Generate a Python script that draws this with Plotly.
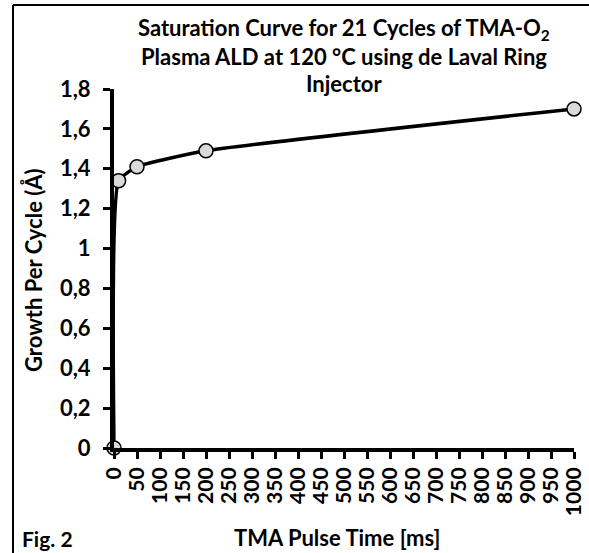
import plotly.graph_objects as go

pulse_ms = [0, 10, 50, 200, 1000]
gpc = [0, 1.34, 1.41, 1.49, 1.70]

x_ticks = list(range(0, 1001, 50))
x_tick_labels = [str(v) for v in x_ticks]
y_ticks = [0, 0.2, 0.4, 0.6, 0.8, 1.0, 1.2, 1.4, 1.6, 1.8]
y_tick_labels = ["0", "0,2", "0,4", "0,6", "0,8", "1", "1,2", "1,4", "1,6", "1,8"]

title_lines = [
    "Saturation Curve for 21 Cycles of TMA-O<sub>2</sub>",
    "Plasma ALD at 120 °C using de Laval Ring",
    "Injector",
]

FONT = "Lato"
W, H = 589, 553
L, R, T, B = 114, 574, 89, 448  # plot area in pixels


def px(x):
    return (x - L) / (R - L)


def py(y):
    return (B - y) / (B - T)


fig = go.Figure()
fig.add_trace(go.Scatter(
    x=pulse_ms, y=gpc, mode="lines+markers",
    line=dict(color="black", width=3.5, shape="spline", smoothing=0.45),
    marker=dict(size=14, color="#d9d9d9", line=dict(color="black", width=1.5)),
    cliponaxis=False, showlegend=False,
))

axis_common = dict(
    showgrid=False, zeroline=False,
    showline=True, linecolor="black", linewidth=4,
    ticks="outside", ticklen=7, tickwidth=3, tickcolor="black",
    automargin=False,
)

fig.update_layout(
    width=W, height=H,
    margin=dict(l=L, r=W - R, t=T, b=H - B),
    plot_bgcolor="white", paper_bgcolor="white",
    font=dict(family=FONT, color="black"),
    xaxis=dict(
        range=[0, 1000], tickvals=x_ticks, ticktext=x_tick_labels,
        tickangle=-90,
        tickfont=dict(size=21, family=FONT, color="black", weight="bold"),
        **axis_common,
    ),
    yaxis=dict(
        range=[0, 1.8], tickvals=y_ticks, ticktext=y_tick_labels,
        tickfont=dict(size=22, family=FONT, color="black", weight="bold"),
        ticklabelstandoff=8,
        **axis_common,
    ),
)

# frame lines (left and top) of the original figure
fig.add_shape(type="line", xref="paper", yref="paper",
              x0=px(13), x1=px(13), y0=py(H + 5), y1=py(5),
              line=dict(color="black", width=2))
fig.add_shape(type="line", xref="paper", yref="paper",
              x0=px(13), x1=px(W + 5), y0=py(5), y1=py(5),
              line=dict(color="black", width=2))

# title lines
for text, yc in zip(title_lines, [29, 56, 83]):
    fig.add_annotation(text=f"<b>{text}</b>", xref="paper", yref="paper",
                       x=px(344), y=py(yc), xanchor="center", yanchor="middle",
                       showarrow=False, font=dict(size=22, family=FONT, color="black"))

# axis titles
fig.add_annotation(text="<b>TMA Pulse Time [ms]</b>", xref="paper", yref="paper",
                   x=px(337), y=py(537), xanchor="center", yanchor="middle",
                   showarrow=False, font=dict(size=22, family=FONT, color="black"))
fig.add_annotation(text="<b>Growth Per Cycle (Å)</b>", xref="paper", yref="paper",
                   x=px(33), y=py(270), xanchor="center", yanchor="middle", textangle=-90,
                   showarrow=False, font=dict(size=22, family=FONT, color="black"))
fig.add_annotation(text="<b>Fig. 2</b>", xref="paper", yref="paper",
                   x=px(20), y=py(538), xanchor="left", yanchor="middle",
                   showarrow=False, font=dict(size=21, family=FONT, color="black"))

fig.write_html(
    "out.html",
    config={"displayModeBar": False},
    post_script="document.body.style.margin='0';document.body.style.overflow='hidden';",
)
